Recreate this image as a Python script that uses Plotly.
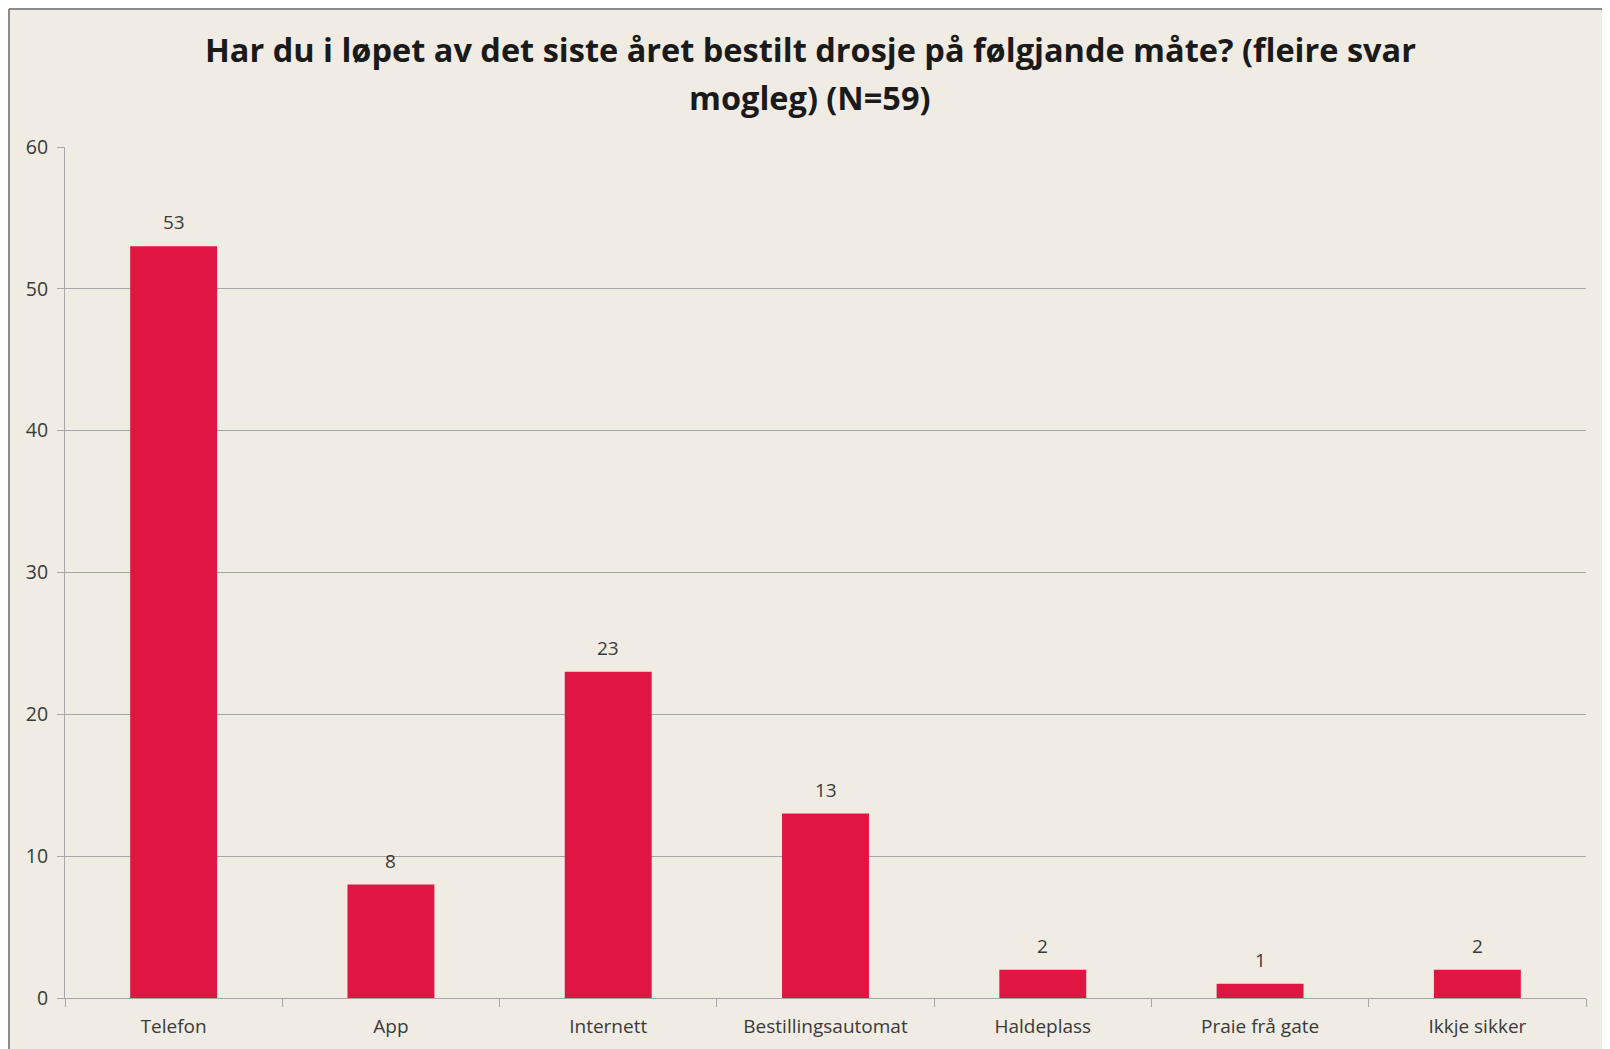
import plotly.graph_objects as go

categories = ['Telefon', 'App', 'Internett', 'Bestillingsautomat', 'Haldeplass', 'Praie frå gate', 'Ikkje sikker']
values = [53, 8, 23, 13, 2, 1, 2]
y_ticks = [0, 10, 20, 30, 40, 50, 60]

title_lines = ['Har du i løpet av det siste året bestilt drosje på følgjande måte? (fleire svar',
               'mogleg) (N=59)']

bg = '#F0ECE4'
grid = '#A6A6A6'
txt = '#3A3A3A'

# plot area size in px (page has an 8px body margin)
W, H = 1610, 1049
L, T, R, B = 57, 139, 32, 59
pw, ph = W - L - R, H - T - B

fig = go.Figure()
fig.add_trace(go.Bar(
    x=categories, y=values,
    marker_color='#DF1642', marker_line_width=0,
    width=0.4, hoverinfo='x+y',
))

# data labels above bars
for c, v in zip(categories, values):
    fig.add_annotation(x=c, y=v, text=str(v), showarrow=False, yanchor='bottom', yshift=9,
                       font=dict(family='Open Sans', size=19, color=txt))

# two-line title with Excel-like line spacing
for line, yp in zip(title_lines, [1 + (T - 41) / ph, 1 + (T - 89) / ph]):
    fig.add_annotation(text=line, xref='paper', yref='paper', x=(810 - 8 - L) / pw, y=yp,
                       xanchor='center', yanchor='middle', showarrow=False,
                       font=dict(family='Open Sans', size=32.5, color='#1A1A1A', weight='bold'))

fig.update_layout(
    width=W, height=H,
    paper_bgcolor=bg, plot_bgcolor=bg,
    margin=dict(l=L, r=R, t=T, b=B),
    showlegend=False,
    font=dict(family='Open Sans', size=18, color=txt),
)
fig.update_xaxes(
    showline=True, linecolor=grid, linewidth=1,
    ticks='outside', tickson='boundaries', ticklen=8, tickcolor=grid,
    showgrid=False, tickfont=dict(size=19, color=txt), ticklabelstandoff=11,
)
fig.update_yaxes(
    range=[0, 60], tickvals=y_ticks, showgrid=True, gridcolor=grid, gridwidth=1,
    showline=True, linecolor=grid, linewidth=1,
    ticks='outside', ticklen=7, tickcolor=grid, zeroline=False,
    tickfont=dict(size=19.5, color=txt), ticklabelstandoff=5,
)

# outer chart frame (cropped at right and bottom)
fx = (-L + 1) / pw
fy = 1 + (T - 1) / ph
fig.add_shape(type='line', xref='paper', yref='paper', x0=fx, x1=1.1, y0=fy, y1=fy,
              line=dict(color='#8A8A8A', width=2))
fig.add_shape(type='line', xref='paper', yref='paper', x0=fx, x1=fx, y0=fy, y1=-0.2,
              line=dict(color='#8A8A8A', width=2))

fig.write_html('out.html')
